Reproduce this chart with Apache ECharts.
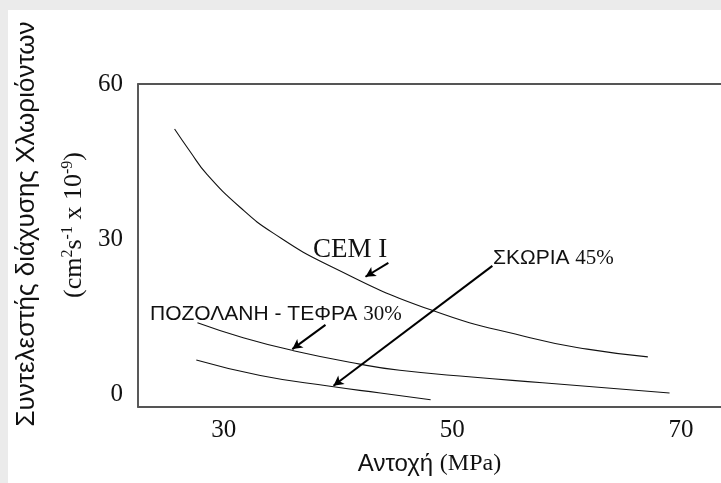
<!DOCTYPE html>
<html>
<head>
<meta charset="utf-8">
<script src="https://cdn.jsdelivr.net/npm/echarts@6/dist/echarts.min.js"></script>
<style>
  html, body { margin: 0; padding: 0; background: #ebebeb; }
  #chart { width: 721px; height: 483px; }
</style>
</head>
<body>
<div id="chart"></div>
<script>
// values: [strength MPa, diffusion coeff]
let cem_data = [[25.7, 51.3], [27.1, 46.8], [28.5, 42.6], [31.4, 36.2], [34.3, 31.2],
                [39.3, 24.8], [48.1, 16.3], [56.8, 10.9], [61.8, 8.7], [67.1, 7.2]];
let pozzolan_data = [[27.7, 13.8], [31.7, 10.9], [36.1, 8.4], [41.9, 5.8],
                     [45.4, 4.6], [51.7, 3.3], [57.9, 2.2], [69.0, 0.2]];
let slag_data = [[27.6, 6.6], [33.2, 3.6], [39.3, 1.5], [43.7, 0.2], [48.1, -1.1]];

// arrows pointing at the curves: [from, to]
let arrows = [
    [[44.4, 25.4], [42.4, 22.7]],
    [[38.9, 13.4], [36.0, 8.7]],
    [[53.5, 24.8], [39.6, 1.6]]
];

let x_ticks = [30, 50, 70];
let y_ticks = [0, 30, 60];

let serif = 'Liberation Serif';
let sans = 'Liberation Sans';

function curve(name, data) {
    return {
        name: name,
        type: 'line',
        smooth: 0.5,
        showSymbol: false,
        lineStyle: { color: '#111', width: 1.1 },
        data: data
    };
}

let diffusion_option = {
    backgroundColor: '#ebebeb',
    animation: false,
    grid: { left: 138, right: 0, top: 84, bottom: 76 },
    xAxis: [
        {
            type: 'value',
            min: 22.5,
            max: 73.5,
            position: 'bottom',
            axisLine: { onZero: false, lineStyle: { color: '#555', width: 2 } },
            axisTick: { show: false },
            splitLine: { show: false },
            axisLabel: {
                customValues: x_ticks,
                fontFamily: serif,
                fontSize: 25,
                color: '#111',
                margin: 11
            },
            name: '{a|Αντοχή }{b|(MPa)}',
            nameLocation: 'middle',
            nameGap: 45,
            nameTextStyle: {
                rich: {
                    a: { fontFamily: sans, fontSize: 24, color: '#111' },
                    b: { fontFamily: serif, fontSize: 24, color: '#111' }
                }
            }
        },
        {
            type: 'value',
            min: 22.5,
            max: 73.5,
            position: 'top',
            axisLine: { onZero: false, lineStyle: { color: '#555', width: 2 } },
            axisTick: { show: false },
            axisLabel: { show: false },
            splitLine: { show: false }
        }
    ],
    yAxis: {
        type: 'value',
        min: -2.5,
        max: 60,
        axisLine: { show: true, onZero: false, lineStyle: { color: '#222', width: 1.5 } },
        axisTick: { show: false },
        splitLine: { show: false },
        axisLabel: {
            customValues: y_ticks,
            fontFamily: serif,
            fontSize: 25,
            color: '#111',
            margin: 15
        }
    },
    graphic: [
        {
            type: 'rect',
            left: 8, top: 10, z: -10,
            shape: { width: 713, height: 473 },
            style: { fill: '#fff' }
        },
        {
            type: 'text',
            x: 27, y: 224,
            rotation: Math.PI / 2,
            style: {
                text: 'Συντελεστής διάχυσης Χλωριόντων',
                fontFamily: sans, fontSize: 26, fill: '#111',
                align: 'center', verticalAlign: 'middle'
            }
        },
        {
            type: 'text',
            x: 74, y: 225,
            rotation: Math.PI / 2,
            style: {
                text: '{n|(cm}{s|2}{n|s}{s|-1}{n| x 10}{s|-9}{n|)}',
                align: 'center', verticalAlign: 'middle',
                rich: {
                    n: { fontFamily: serif, fontSize: 26, fill: '#111' },
                    s: { fontFamily: serif, fontSize: 16, fill: '#111', padding: [0, 0, 12, 0] }
                }
            }
        },
        {
            type: 'text',
            x: 313, y: 250,
            style: {
                text: 'CEM I',
                fontFamily: serif, fontSize: 27, fill: '#111',
                verticalAlign: 'middle'
            }
        },
        {
            type: 'text',
            x: 493, y: 258,
            style: {
                text: '{a|ΣΚΩΡΙΑ }{b|45%}',
                verticalAlign: 'middle',
                rich: {
                    a: { fontFamily: sans, fontSize: 21, fill: '#111' },
                    b: { fontFamily: serif, fontSize: 21, fill: '#111' }
                }
            }
        },
        {
            type: 'text',
            x: 150, y: 314,
            style: {
                text: '{a|ΠΟΖΟΛΑΝΗ - ΤΕΦΡΑ }{b|30%}',
                verticalAlign: 'middle',
                rich: {
                    a: { fontFamily: sans, fontSize: 21, fill: '#111' },
                    b: { fontFamily: serif, fontSize: 21, fill: '#111' }
                }
            }
        }
    ],
    series: [
        curve('CEM I', cem_data),
        curve('ΠΟΖΟΛΑΝΗ - ΤΕΦΡΑ 30%', pozzolan_data),
        curve('ΣΚΩΡΙΑ 45%', slag_data),
        {
            name: 'arrows',
            type: 'line',
            data: [],
            markLine: {
                silent: true,
                symbol: ['none', 'arrow'],
                symbolSize: [8, 10],
                label: { show: false },
                lineStyle: { color: '#000', width: 2, type: 'solid' },
                data: arrows.map(a => [{ coord: a[0] }, { coord: a[1] }])
            }
        }
    ]
};

let diffusion_chart = echarts.init(document.getElementById('chart'));
diffusion_chart.setOption(diffusion_option);
</script>
</body>
</html>
